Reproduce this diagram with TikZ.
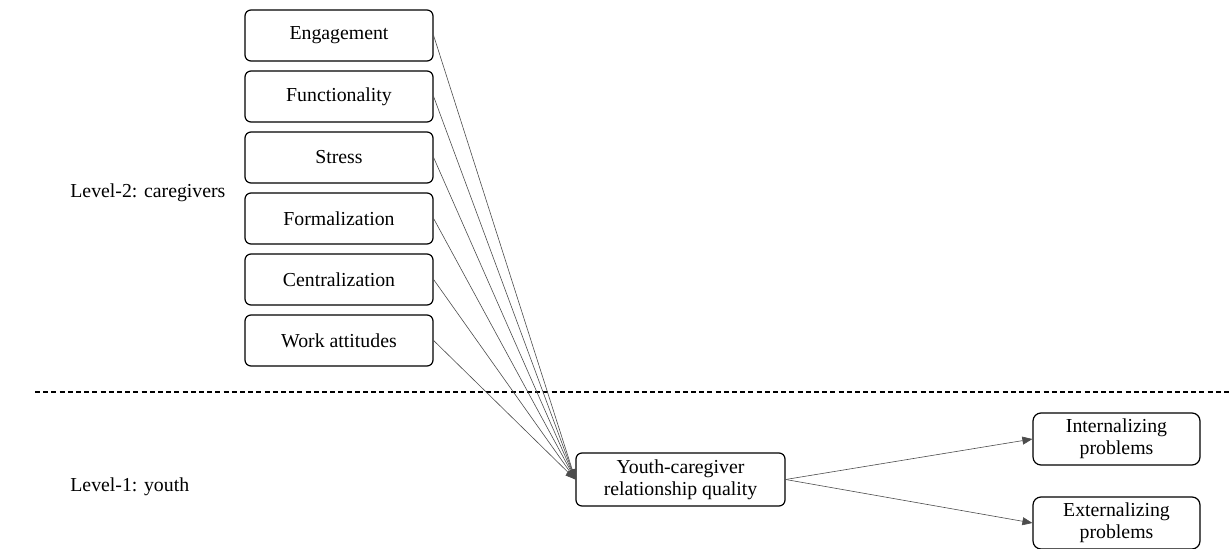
\documentclass[tikz,border=0pt]{standalone}
\usepackage{fontspec}
\setmainfont{Liberation Serif}
\usetikzlibrary{arrows.meta}
\begin{document}
\begin{tikzpicture}[x=0.5pt,y=-0.5pt,
    font=\fontsize{9.9}{11.2}\selectfont,
    box/.style={draw,line width=0.6pt,rounded corners=3pt,align=center,
      inner sep=1pt,minimum width=94pt,minimum height=25.5pt},
    lvl/.style={inner sep=0pt,anchor=west},
    path/.style={line width=0.3pt,draw=black!70,-{Triangle[length=5pt,width=4pt]}}]
      \useasboundingbox (0,0) rectangle (1232,549);
      \draw
        (339,35.5) node[box] (eng){Engagement}
        (339,96.5) node[box] (fun){Functionality}
        (339,157.5) node[box] (str){Stress}
        (339,218.5) node[box] (frm){Formalization}
        (339,279.5) node[box] (cen){Centralization}
        (339,340.5) node[box] (wat){Work attitudes}
        (70,193) node[lvl] (lv2){Level-2: caregivers}
        (70,487) node[lvl] (lv1){Level-1: youth}
        (680.5,479.5) node[box,minimum width=104.5pt,minimum height=26.5pt] (yq){Youth-caregiver\\relationship quality}
        (1116.5,439) node[box,minimum width=83.5pt,minimum height=26pt,rounded corners=4pt] (int){Internalizing\\problems}
        (1116.5,523) node[box,minimum width=83.5pt,minimum height=26pt,rounded corners=4pt] (ext){Externalizing\\problems};
      \draw[line width=0.7pt,dash pattern=on 2.5pt off 1.6pt] (35,392) -- (1232,392);
      \begin{scope}[path]
        \draw (eng.east) to (yq.west);
        \draw (fun.east) to (yq.west);
        \draw (str.east) to (yq.west);
        \draw (frm.east) to (yq.west);
        \draw (cen.east) to (yq.west);
        \draw (wat.east) to (yq.west);
        \draw (yq.east) to (int.west);
        \draw (yq.east) to (ext.west);
      \end{scope}
    \end{tikzpicture}
\end{document}
